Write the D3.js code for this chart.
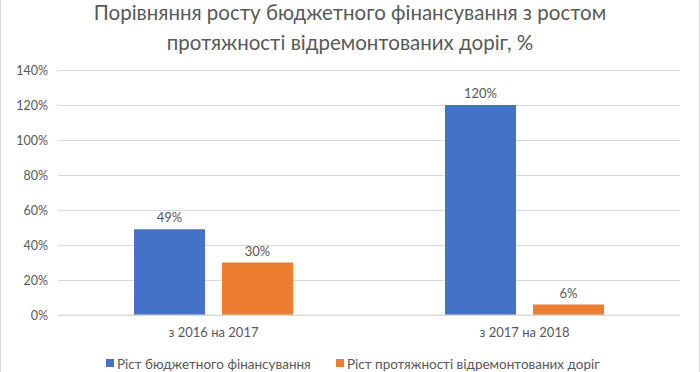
<!DOCTYPE html>
<html>
  <head>
  <meta charset="utf-8">
  <title>Chart</title>
  <style>
    body, html {
      margin: 0;
      padding: 0;
      background: #fff;
    }
    svg text {
      font-family: Lato, "Open Sans", sans-serif;
      fill: #595959;
    }
  </style>
  </head>
  <body>

  <svg id="svg" width="700" height="372"></svg>

  <script src="https://d3js.org/d3.v7.min.js"></script>
  <script>
    const categories = ['з 2016 на 2017', 'з 2017 на 2018']
    const seriesNames = ['Ріст бюджетного фінансування', 'Ріст протяжності відремонтованих доріг']
    const budgetGrowth = [49, 120]
    const roadGrowth = [30, 6]
    const yTicks = [0, 20, 40, 60, 80, 100, 120, 140]
    const colors = ['#4472c4', '#ed7d31']
    const titleLines = ['Порівняння росту бюджетного фінансування з ростом', 'протяжності відремонтованих доріг, %']

    const data = categories.map((c, i) => ({ cat: c, values: [budgetGrowth[i], roadGrowth[i]] }))

    const margin = { top: 70, right: 20, bottom: 57, left: 58 }
    const width = 700 - margin.left - margin.right
    const height = 372 - margin.top - margin.bottom

    const svg = d3.select('#svg')

    svg.append('rect')
      .attr('x', 0.5).attr('y', -1)
      .attr('width', 699).attr('height', 380)
      .attr('fill', 'none').attr('stroke', '#d9d9d9')

    svg.append('g')
      .selectAll('text')
      .data(titleLines)
      .enter()
      .append('text')
      .attr('x', 350)
      .attr('y', (d, i) => 20 + i * 30)
      .attr('text-anchor', 'middle')
      .attr('font-size', 20.5)
      .text(d => d)

    const xscale = d3.scaleBand()
      .domain(categories)
      .range([margin.left, margin.left + width])

    const inner = d3.scaleBand()
      .domain([0, 1])
      .range([76, xscale.bandwidth() - 76])
      .paddingInner(0.193)

    const yscale = d3.scaleLinear()
      .domain([0, 140])
      .range([margin.top + height, margin.top])

    const grid = d3.axisLeft(yscale)
      .tickValues(yTicks)
      .tickSize(-width)
      .tickFormat(d => d + '%')

    svg.append('g')
      .attr('transform', `translate(${margin.left},0)`)
      .call(grid)
      .call(g => g.select('.domain').remove())
      .call(g => g.selectAll('line').attr('stroke', '#d9d9d9'))
      .call(g => g.selectAll('text')
        .attr('x', -10)
        .attr('font-size', 12.5)
        .style('font-family', 'Lato, sans-serif')
        .attr('fill', '#595959'))

    const groups = svg.append('g')
      .selectAll('g')
      .data(data)
      .enter()
      .append('g')
      .attr('transform', d => `translate(${xscale(d.cat)},0)`)

    groups.selectAll('rect')
      .data(d => d.values)
      .enter()
      .append('rect')
      .attr('x', (d, i) => inner(i))
      .attr('y', d => yscale(d))
      .attr('width', inner.bandwidth())
      .attr('height', d => yscale(0) - yscale(d))
      .attr('fill', (d, i) => colors[i])

    groups.selectAll('text')
      .data(d => d.values)
      .enter()
      .append('text')
      .attr('x', (d, i) => inner(i) + inner.bandwidth() / 2)
      .attr('y', d => yscale(d) - 7)
      .attr('text-anchor', 'middle')
      .attr('font-size', 13)
      .text(d => d + '%')

    // baseline
    svg.append('line')
      .attr('x1', margin.left).attr('x2', margin.left + width)
      .attr('y1', yscale(0)).attr('y2', yscale(0))
      .attr('stroke', '#d9d9d9')

    const bottomAxis = d3.axisBottom(xscale).tickSize(0)
    svg.append('g')
      .attr('transform', `translate(0, ${yscale(0)})`)
      .call(bottomAxis)
      .call(g => g.select('.domain').remove())
      .call(g => g.selectAll('text')
        .attr('dy', 19)
        .attr('font-size', 13)
        .style('font-family', 'Lato, sans-serif')
        .attr('fill', '#595959'))

    // legend
    const legendX = [106, 336]
    const legend = svg.append('g')
      .selectAll('g')
      .data(seriesNames)
      .enter()
      .append('g')
      .attr('transform', (d, i) => `translate(${legendX[i]}, 364)`)
    legend.append('rect')
      .attr('x', 0).attr('y', -5)
      .attr('width', 8).attr('height', 8)
      .attr('fill', (d, i) => colors[i])
    legend.append('text')
      .attr('x', 11)
      .attr('y', 0)
      .attr('dy', '0.35em')
      .attr('font-size', 13.5)
      .text(d => d)
  </script>
  </body>
</html>
